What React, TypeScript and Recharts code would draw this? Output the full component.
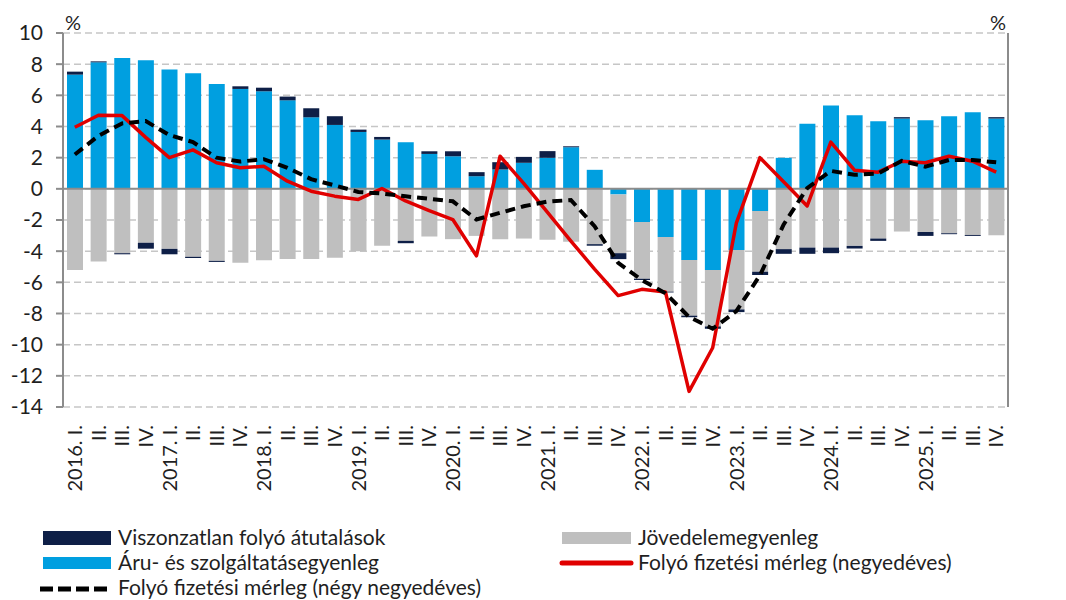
import { ComposedChart, Bar, Line, XAxis, YAxis, CartesianGrid, ReferenceLine } from "recharts";

const periods = [
  "2016Q1", "2016Q2", "2016Q3", "2016Q4", "2017Q1", "2017Q2", "2017Q3", "2017Q4",
  "2018Q1", "2018Q2", "2018Q3", "2018Q4", "2019Q1", "2019Q2", "2019Q3", "2019Q4",
  "2020Q1", "2020Q2", "2020Q3", "2020Q4", "2021Q1", "2021Q2", "2021Q3", "2021Q4",
  "2022Q1", "2022Q2", "2022Q3", "2022Q4", "2023Q1", "2023Q2", "2023Q3", "2023Q4",
  "2024Q1", "2024Q2", "2024Q3", "2024Q4", "2025Q1", "2025Q2", "2025Q3", "2025Q4",
];

const tickLabels = [
  "2016. I.", "II.", "III.", "IV.", "2017. I.", "II.", "III.", "IV.",
  "2018. I.", "II.", "III.", "IV.", "2019. I.", "II.", "III.", "IV.",
  "2020. I.", "II.", "III.", "IV.", "2021. I.", "II.", "III.", "IV.",
  "2022. I.", "II.", "III.", "IV.", "2023. I.", "II.", "III.", "IV.",
  "2024. I.", "II.", "III.", "IV.", "2025. I.", "II.", "III.", "IV.",
];

// Áru- és szolgáltatásegyenleg
const goodsServices = [
  7.33, 8.12, 8.4, 8.25, 7.65, 7.41, 6.73, 6.41, 6.26, 5.68, 4.59, 4.1,
  3.65, 3.16, 2.99, 2.24, 2.09, 0.81, 1.24, 1.67, 1.99, 2.67, 1.22, -0.36,
  -2.13, -3.09, -4.57, -5.21, -3.92, -1.43, 1.99, 4.17, 5.34, 4.72, 4.34, 4.51,
  4.4, 4.66, 4.91, 4.51,
];

// Jövedelemegyenleg
const incomeBalance = [
  -5.21, -4.66, -4.13, -3.46, -3.85, -4.36, -4.62, -4.75, -4.58, -4.51, -4.51, -4.42,
  -4.0, -3.66, -3.34, -3.06, -3.23, -3.02, -3.23, -3.19, -3.26, -3.4, -3.55, -3.77,
  -3.64, -3.51, -3.57, -3.62, -3.82, -3.89, -3.87, -3.77, -3.77, -3.66, -3.19, -2.74,
  -2.77, -2.85, -2.96, -2.98,
];

// Viszonzatlan folyó átutalások
const transfers = [
  0.19, 0.06, -0.07, -0.38, -0.35, -0.08, -0.07, 0.17, 0.23, 0.24, 0.58, 0.56,
  0.15, 0.17, -0.15, 0.17, 0.32, 0.26, 0.47, 0.38, 0.43, 0.06, -0.1, -0.38,
  -0.08, -0.05, -0.1, -0.15, -0.17, -0.21, -0.3, -0.4, -0.36, -0.17, -0.15, 0.09,
  -0.25, -0.06, -0.06, 0.09,
];

// Folyó fizetési mérleg (negyedéves)
const currentAccountQ = [
  3.95, 4.72, 4.7, 3.3, 2.0, 2.5, 1.67, 1.35, 1.45, 0.49, -0.15, -0.47,
  -0.68, 0.02, -0.78, -1.4, -1.97, -4.3, 2.09, 0.35, -1.5, -3.35, -5.15, -6.85,
  -6.45, -6.62, -13.0, -10.2, -2.2, 2.0, 0.45, -1.1, 3.0, 1.2, 1.07, 1.77,
  1.67, 2.09, 1.77, 1.07,
];

// Folyó fizetési mérleg (négy negyedéves)
const currentAccount4Q = [
  2.2, 3.4, 4.2, 4.35, 3.45, 3.0, 2.0, 1.75, 1.9, 1.35, 0.62, 0.22,
  -0.2, -0.3, -0.48, -0.64, -0.8, -1.97, -1.54, -1.12, -0.82, -0.72, -2.4, -4.75,
  -5.85, -6.7, -8.22, -8.98, -7.85, -5.55, -2.3, 0.05, 1.15, 0.9, 0.98, 1.8,
  1.42, 1.85, 1.85, 1.7,
];

const yTicks = [-14, -12, -10, -8, -6, -4, -2, 0, 2, 4, 6, 8, 10];

const data = periods.map((p, i) => ({
  period: p,
  goods: goodsServices[i],
  income: incomeBalance[i],
  transfers: transfers[i],
  caQ: currentAccountQ[i],
  ca4Q: currentAccount4Q[i],
}));

const FONT = "Lato, 'Open Sans', sans-serif";
const TEXT = "#1f1f1f";
const AXIS = "#8c8c8c";
const BLUE = "#009fe0";
const NAVY = "#0e1f47";
const GREY = "#bfbfbf";
const RED = "#e00000";

function QuarterTick(props: any) {
  const { x, y, payload } = props;
  const label = tickLabels[periods.indexOf(payload.value)];
  return (
    <text
      x={x}
      y={y}
      transform={`rotate(-90 ${x} ${y})`}
      textAnchor="end"
      dy="0.36em"
      fill={TEXT}
      fontSize={20}
      fontFamily={FONT}
    >
      {label}
    </text>
  );
}

export default function App() {
  return (
    <div style={{ position: "relative", width: 1066, height: 600, overflow: "hidden", fontFamily: FONT, background: "#fff" }}>
      <style>{"body{margin:0}"}</style>
      <ComposedChart
        width={1066}
        height={600}
        data={data}
        stackOffset="sign"
        margin={{ top: 33, right: 0, bottom: 93, left: 0 }}
      >
        <CartesianGrid vertical={false} stroke="#c6c6c6" strokeWidth={1.5} strokeDasharray="7 4" yAxisId="left" />
        <XAxis
          dataKey="period"
          interval={0}
          height={100}
          axisLine={false}
          tickLine={false}
          tickSize={0}
          tickMargin={18}
          tick={<QuarterTick />}
        />
        <YAxis
          yAxisId="left"
          width={63}
          domain={[-14, 10]}
          ticks={yTicks}
          interval={0}
          axisLine={{ stroke: AXIS, strokeWidth: 2 }}
          tickLine={{ stroke: AXIS, strokeWidth: 2 }}
          tickSize={7}
          tickMargin={13}
          tick={{ fill: TEXT, fontSize: 21, fontFamily: FONT }}
        />
        <YAxis
          yAxisId="right"
          orientation="right"
          width={58}
          domain={[-14, 10]}
          ticks={yTicks}
          interval={0}
          axisLine={{ stroke: AXIS, strokeWidth: 2 }}
          tickLine={{ stroke: AXIS, strokeWidth: 2 }}
          tickSize={7}
          tickMargin={15}
          tick={{ fill: TEXT, fontSize: 21, fontFamily: FONT, textAnchor: "start" }}
        />
        <Bar yAxisId="left" dataKey="goods" stackId="s" fill={BLUE} barSize={16} isAnimationActive={false} />
        <Bar yAxisId="left" dataKey="income" stackId="s" fill={GREY} barSize={16} isAnimationActive={false} />
        <Bar yAxisId="left" dataKey="transfers" stackId="s" fill={NAVY} barSize={16} isAnimationActive={false} />
        <ReferenceLine yAxisId="left" y={0} stroke={AXIS} strokeWidth={2} />
        <Line
          yAxisId="left"
          type="linear"
          dataKey="caQ"
          stroke={RED}
          strokeWidth={3.5}
          dot={false}
          activeDot={false}
          strokeLinejoin="round"
          isAnimationActive={false}
        />
        <Line
          yAxisId="left"
          type="linear"
          dataKey="ca4Q"
          stroke="#000"
          strokeWidth={4}
          strokeDasharray="10 6"
          dot={false}
          activeDot={false}
          isAnimationActive={false}
        />
      </ComposedChart>

      <div style={{ position: "absolute", left: 65, top: 10, fontSize: 20, color: TEXT }}>%</div>
      <div style={{ position: "absolute", left: 990, top: 10, fontSize: 20, color: TEXT }}>%</div>

      {/* legend */}
      <svg style={{ position: "absolute", left: 0, top: 515 }} width={1066} height={85}>
        <g fontFamily={FONT} fontSize={21} fill={TEXT}>
          <rect x={43} y={16} width={68} height={14} fill={NAVY} />
          <text x={118} y={30}>Viszonzatlan folyó átutalások</text>
          <rect x={43} y={42} width={68} height={12} fill={BLUE} />
          <text x={118} y={55}>Áru- és szolgáltatásegyenleg</text>
          <line x1={40} y1={74} x2={112} y2={74} stroke="#000" strokeWidth={5} strokeDasharray="13 5" />
          <text x={118} y={80}>Folyó fizetési mérleg (négy negyedéves)</text>

          <rect x={562} y={17} width={69} height={12} fill={GREY} />
          <text x={638} y={30}>Jövedelemegyenleg</text>
          <line x1={562} y1={48} x2={631} y2={48} stroke={RED} strokeWidth={5} strokeLinecap="round" />
          <text x={638} y={55}>Folyó fizetési mérleg (negyedéves)</text>
        </g>
      </svg>
    </div>
  );
}
